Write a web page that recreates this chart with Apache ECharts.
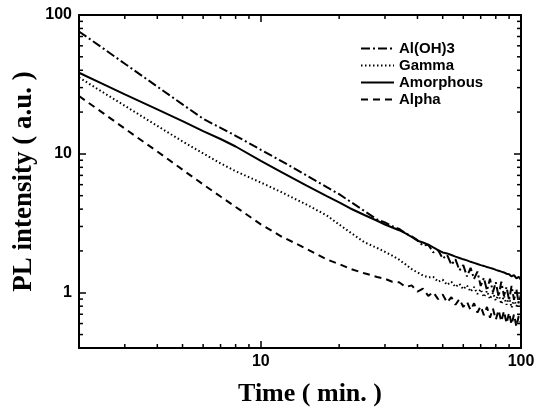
<!DOCTYPE html>
<html>
<head>
<meta charset="utf-8">
<script src="https://cdn.jsdelivr.net/npm/echarts@6/dist/echarts.min.js"></script>
<style>
  html, body { margin: 0; padding: 0; background: #fff; }
  #chart { width: 543px; height: 412px; }
</style>
</head>
<body>
<div id="chart"></div>
<script>
const time = [2, 2.5, 3, 4, 5, 6, 7, 8, 10, 12, 15, 18, 20, 22, 25, 28,
  30, 32, 34, 36, 38, 40, 42, 44, 46, 48, 50, 52, 54, 56, 58, 60, 62, 64, 66, 68,
  70, 72, 74, 76, 78, 80, 82, 84, 86, 88, 90, 92, 94, 96, 98, 100]

const alOH3 = [76, 56.8, 44.6, 30.5, 22.7, 17.9, 15.4, 13.5, 10.7, 8.87, 6.98, 5.74, 5.13, 4.55, 3.88, 3.37,
  3.21, 3.02, 2.88, 2.68, 2.55, 2.39, 2.18, 2.22, 1.95, 2.03, 1.76, 1.87, 1.59, 1.74, 1.45, 1.58, 1.31, 1.51, 1.26, 1.42,
  1.12, 1.28, 1.04, 1.26, 1.01, 1.19, 0.94, 1.2, 0.95, 1.1, 0.88, 1.12, 0.89, 1.06, 0.84, 0.97]

const gamma = [35.5, 27.4, 22.2, 15.9, 12.3, 10.1, 8.55, 7.5, 6.22, 5.3, 4.31, 3.58, 3.1, 2.73, 2.31, 2.1,
  1.97, 1.85, 1.73, 1.6, 1.48, 1.4, 1.33, 1.29, 1.3, 1.2, 1.24, 1.14, 1.2, 1.1, 1.16, 1.06, 1.13, 1.02, 1.1, 0.98,
  1.06, 0.93, 1.03, 0.9, 1.0, 0.88, 0.98, 0.83, 0.95, 0.82, 0.93, 0.78, 0.9, 0.8, 0.86, 0.82]

const amorphous = [38.4, 31.5, 26.8, 20.9, 17.2, 14.6, 12.8, 11.3, 8.9, 7.4, 5.9, 4.94, 4.47, 4.06, 3.63, 3.3,
  3.1, 2.95, 2.82, 2.68, 2.52, 2.37, 2.3, 2.22, 2.12, 2.03, 1.95, 1.92, 1.87, 1.82, 1.78, 1.74, 1.71, 1.67, 1.64, 1.61,
  1.58, 1.56, 1.53, 1.51, 1.49, 1.46, 1.44, 1.42, 1.4, 1.37, 1.36, 1.31, 1.34, 1.27, 1.3, 1.24]

const alpha = [26.1, 19.4, 15.2, 10.4, 7.69, 6.03, 4.93, 4.15, 3.11, 2.54, 2.07, 1.73, 1.61, 1.49, 1.38, 1.3,
  1.26, 1.2, 1.19, 1.1, 1.13, 1.02, 1.07, 0.95, 1.01, 0.9, 0.97, 0.85, 0.93, 0.82, 0.9, 0.79, 0.86, 0.75, 0.84, 0.72,
  0.8, 0.69, 0.79, 0.66, 0.77, 0.64, 0.75, 0.62, 0.74, 0.6, 0.72, 0.59, 0.7, 0.57, 0.68, 0.6]

const xMinorTicks = [3, 4, 5, 6, 7, 8, 9, 20, 30, 40, 50, 60, 70, 80, 90]
const yMinorTicks = [0.5, 0.6, 0.7, 0.8, 0.9, 2, 3, 4, 5, 6, 7, 8, 9, 20, 30, 40, 50, 60, 70, 80, 90]

const X_MIN = 2, X_MAX = 100, Y_MIN = 0.4, Y_MAX = 100

const chart = echarts.init(document.getElementById('chart'))

const labelFont = { fontFamily: 'Liberation Sans', fontWeight: 'bold', fontSize: 16, color: '#000' }
const titleFont = { fontFamily: 'Liberation Serif', fontWeight: 'bold', color: '#000' }
const lineAxis = { lineStyle: { color: '#000', width: 2 } }
const majorTick = { inside: true, length: 7, lineStyle: { color: '#000', width: 1.5 } }
const decadeOnly = v => (Math.abs(Math.log10(v) % 1) < 1e-6 ? String(v) : '')

function line(name, values, dash) {
  return {
    name: name,
    type: 'line',
    data: time.map((t, i) => [t, values[i]]),
    symbol: 'none',
    lineStyle: { color: '#000', width: 2, type: dash },
    itemStyle: { color: '#000' }
  }
}

const option = {
  animation: false,
  grid: { left: 79, right: 22, top: 15, bottom: 62 },
  legend: {
    orient: 'vertical',
    left: 355,
    top: 36,
    itemWidth: 33,
    itemHeight: 12,
    itemGap: 2,
    data: ['Al(OH)3', 'Gamma', 'Amorphous', 'Alpha'],
    itemStyle: { color: 'transparent', borderColor: 'transparent', borderWidth: 0 },
    textStyle: { fontFamily: 'Liberation Sans', fontWeight: 'bold', fontSize: 15, color: '#000' }
  },
  xAxis: [{
    type: 'log', logBase: 10, min: X_MIN, max: X_MAX,
    name: 'Time ( min. )', nameLocation: 'middle', nameGap: 33, nameMoveOverlap: false,
    nameTextStyle: Object.assign({ fontSize: 26, padding: [0, 0, 0, 20] }, titleFont),
    axisLine: lineAxis, axisTick: majorTick,
    axisLabel: Object.assign({ margin: 6, formatter: decadeOnly }, labelFont),
    splitLine: { show: false }
  }, {
    type: 'log', logBase: 10, min: X_MIN, max: X_MAX, position: 'top',
    axisLine: lineAxis, axisTick: majorTick, axisLabel: { show: false }, splitLine: { show: false }
  }],
  yAxis: [{
    type: 'log', logBase: 10, min: Y_MIN, max: Y_MAX,
    name: 'PL intensity ( a.u. )', nameLocation: 'middle', nameGap: 41, nameMoveOverlap: false,
    nameTextStyle: Object.assign({ fontSize: 27 }, titleFont),
    axisLine: lineAxis, axisTick: majorTick,
    axisLabel: Object.assign({ margin: 7, formatter: decadeOnly }, labelFont),
    splitLine: { show: false }
  }, {
    type: 'log', logBase: 10, min: Y_MIN, max: Y_MAX, position: 'right',
    axisLine: lineAxis, axisTick: majorTick, axisLabel: { show: false }, splitLine: { show: false }
  }],
  series: [
    line('Al(OH)3', alOH3, [9, 3, 2, 3]),
    line('Gamma', gamma, [1.5, 2.5]),
    line('Amorphous', amorphous, 'solid'),
    line('Alpha', alpha, [7, 5]),
    {
      // minor ticks, bottom and top
      type: 'custom',
      data: xMinorTicks.map(v => [v, Y_MIN]),
      clip: false,
      silent: true,
      renderItem: (params, api) => {
        const b = api.coord([api.value(0), Y_MIN])
        const t = api.coord([api.value(0), Y_MAX])
        const style = { stroke: '#000', lineWidth: 1.5 }
        return {
          type: 'group',
          children: [
            { type: 'line', shape: { x1: b[0], y1: b[1], x2: b[0], y2: b[1] - 4 }, style },
            { type: 'line', shape: { x1: t[0], y1: t[1], x2: t[0], y2: t[1] + 4 }, style }
          ]
        }
      }
    },
    {
      // minor ticks, left and right
      type: 'custom',
      data: yMinorTicks.map(v => [X_MIN, v]),
      clip: false,
      silent: true,
      renderItem: (params, api) => {
        const l = api.coord([X_MIN, api.value(1)])
        const r = api.coord([X_MAX, api.value(1)])
        const style = { stroke: '#000', lineWidth: 1.5 }
        return {
          type: 'group',
          children: [
            { type: 'line', shape: { x1: l[0], y1: l[1], x2: l[0] + 4, y2: l[1] }, style },
            { type: 'line', shape: { x1: r[0], y1: r[1], x2: r[0] - 4, y2: r[1] }, style }
          ]
        }
      }
    }
  ]
}

chart.setOption(option)
</script>
</body>
</html>
